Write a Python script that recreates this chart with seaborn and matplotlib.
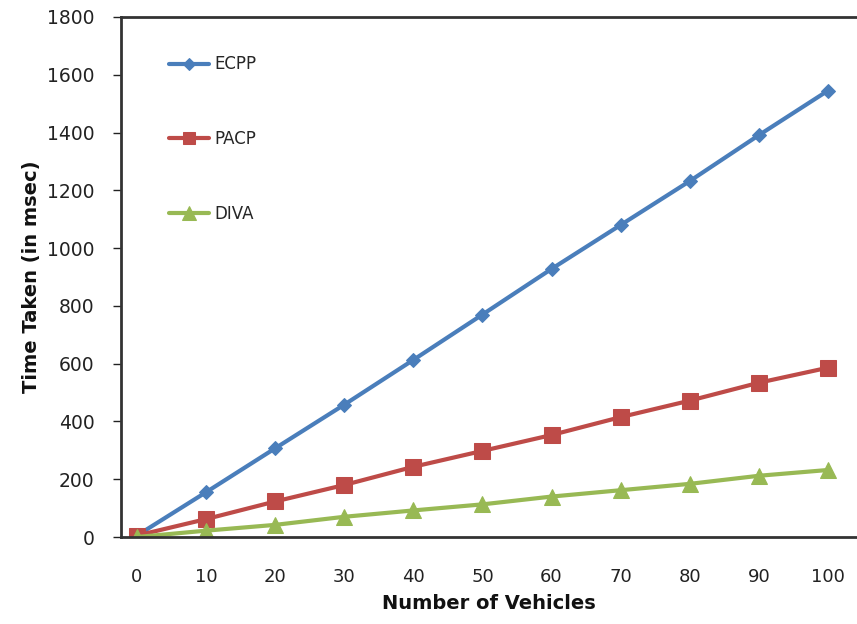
import matplotlib
matplotlib.use("Agg")
import matplotlib.pyplot as plt
import seaborn as sns
import pandas as pd

vehicles = [0, 10, 20, 30, 40, 50, 60, 70, 80, 90, 100]
ecpp = [5, 155, 307, 458, 613, 770, 928, 1080, 1232, 1391, 1545]
pacp = [5, 62, 123, 180, 243, 298, 353, 415, 472, 534, 586]
diva = [0, 22, 42, 70, 92, 113, 140, 162, 184, 212, 232]
series = ["ECPP", "PACP", "DIVA"]
yticks = [0, 200, 400, 600, 800, 1000, 1200, 1400, 1600, 1800]

df = pd.DataFrame({
    "Number of Vehicles": vehicles * 3,
    "Time": ecpp + pacp + diva,
    "Series": sum([[s] * len(vehicles) for s in series], []),
})

sns.set_style("white")
plt.rcParams["font.family"] = ["DejaVu Sans"]

fig = plt.figure(figsize=(8.57, 6.24), dpi=100)
ax = fig.add_axes([0.1412, 0.1394, 0.8588, 0.8334])

palette = {"ECPP": "#4A7EBB", "PACP": "#BE4B48", "DIVA": "#98B954"}
markers = {"ECPP": "D", "PACP": "s", "DIVA": "^"}
sizes_ms = {"ECPP": 7.5, "PACP": 11, "DIVA": 12}

for s in series:
    sub = df[df["Series"] == s]
    sns.lineplot(data=sub, x="Number of Vehicles", y="Time", ax=ax,
                 color=palette[s], marker=markers[s], markersize=sizes_ms[s],
                 markeredgecolor=palette[s], linewidth=3.0, label=s)

ax.set_xlim(-2.3, 104.2)
ax.set_ylim(0, 1800)
ax.set_xticks(vehicles)
ax.set_yticks(yticks)
ax.tick_params(axis="x", length=0, labelsize=13, pad=22, colors="#222222")
ax.tick_params(axis="y", length=6, width=1, direction="out", left=True,
               labelsize=13.5, colors="#222222", pad=13)
ax.set_yticklabels([str(v) for v in yticks])
ax.spines["right"].set_visible(False)
for sp in ["left", "top", "bottom"]:
    ax.spines[sp].set_color("#333333")
    ax.spines[sp].set_linewidth(2)

ax.set_xlabel("Number of Vehicles", fontsize=14, fontweight="bold",
              labelpad=6, color="#111111")
ax.set_ylabel("Time Taken (in msec)", fontsize=14, fontweight="bold",
              labelpad=4, color="#111111")

leg = ax.legend(loc="upper left", bbox_to_anchor=(0.045, 0.955), frameon=False,
                fontsize=12, labelspacing=3.4, handlelength=2.4,
                handletextpad=0.3, markerscale=0.8)

fig.savefig("out.png", dpi=100)
